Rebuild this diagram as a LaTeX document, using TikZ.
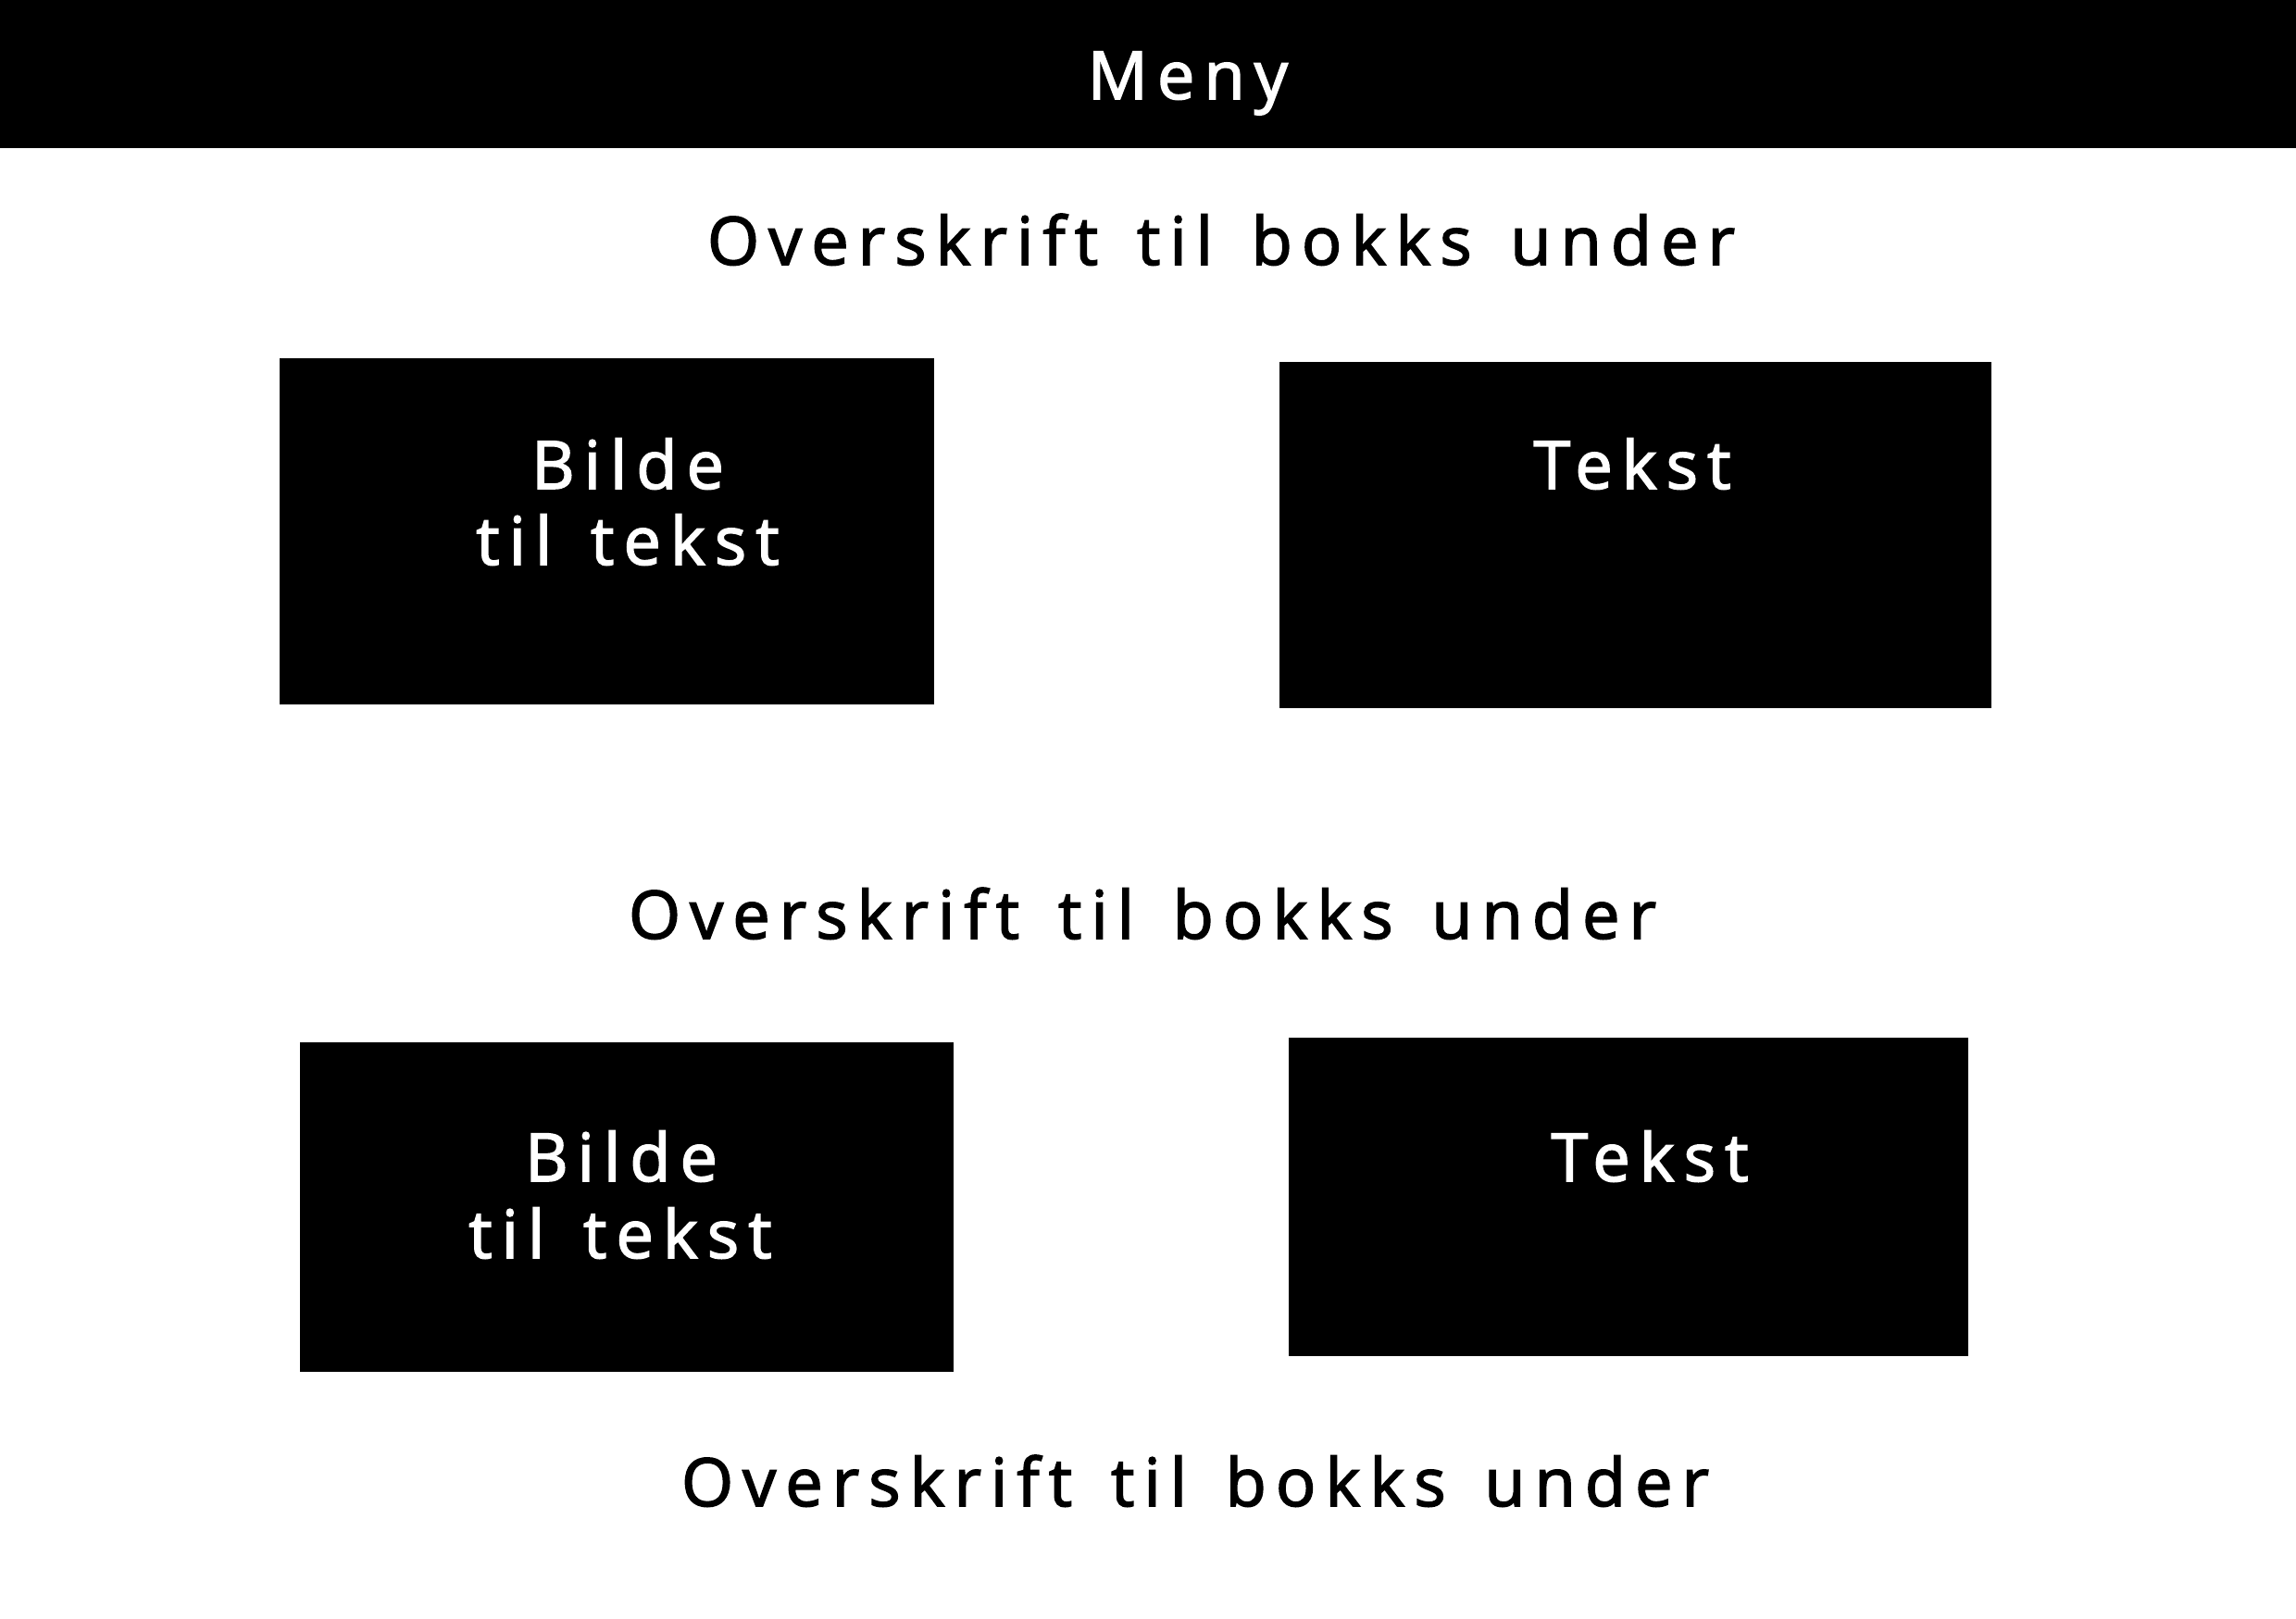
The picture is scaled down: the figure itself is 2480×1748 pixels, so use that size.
\documentclass[tikz,border=0pt]{standalone}
\usepackage{fontspec}
\setmainfont{Open Sans}[LetterSpace=14, WordSpace=1.45, FakeBold=2.2]
\usepackage{tikz}

\begin{document}
\begin{tikzpicture}[x=1pt, y=-1pt,
    panel/.style={rectangle, draw=none, fill=black, inner sep=0pt, anchor=north west},
    heading/.style={anchor=base, inner sep=0pt, font=\fontsize{72}{82}\selectfont, text=black},
    label/.style={anchor=base, inner sep=0pt, align=center, font=\fontsize{72}{82}\selectfont, text=white},
]
    \useasboundingbox (0,0) rectangle (2480,1748);
    \fill[white] (0,0) rectangle (2480,1748);

    % menu bar
    \node[panel, minimum width=2480pt, minimum height=160pt] (bar) at (0,0) {};
    \node[label] (meny) at (1283,107) {Meny};

    % headings
    \node[heading] (head1) at (1319,286) {Overskrift til bokks under};
    \node[heading] (head2) at (1234,1014) {Overskrift til bokks under};
    \node[heading] (head3) at (1291,1627) {Overskrift til bokks under};

    % first row
    \node[panel, minimum width=707pt, minimum height=374pt] (img1) at (302,387) {};
    \node[panel, minimum width=769pt, minimum height=374pt] (txt1) at (1382,391) {};
    \node[label] (img1a) at (678,528) {Bilde};
    \node[label] (img1b) at (678,610) {til tekst};
    \node[label] (txt1a) at (1763,528) {Tekst};

    % second row
    \node[panel, minimum width=706pt, minimum height=356pt] (img2) at (324,1126) {};
    \node[panel, minimum width=734pt, minimum height=344pt] (txt2) at (1392,1121) {};
    \node[label] (img2a) at (671,1276) {Bilde};
    \node[label] (img2b) at (670,1359) {til tekst};
    \node[label] (txt2a) at (1782,1276) {Tekst};
\end{tikzpicture}
\end{document}
